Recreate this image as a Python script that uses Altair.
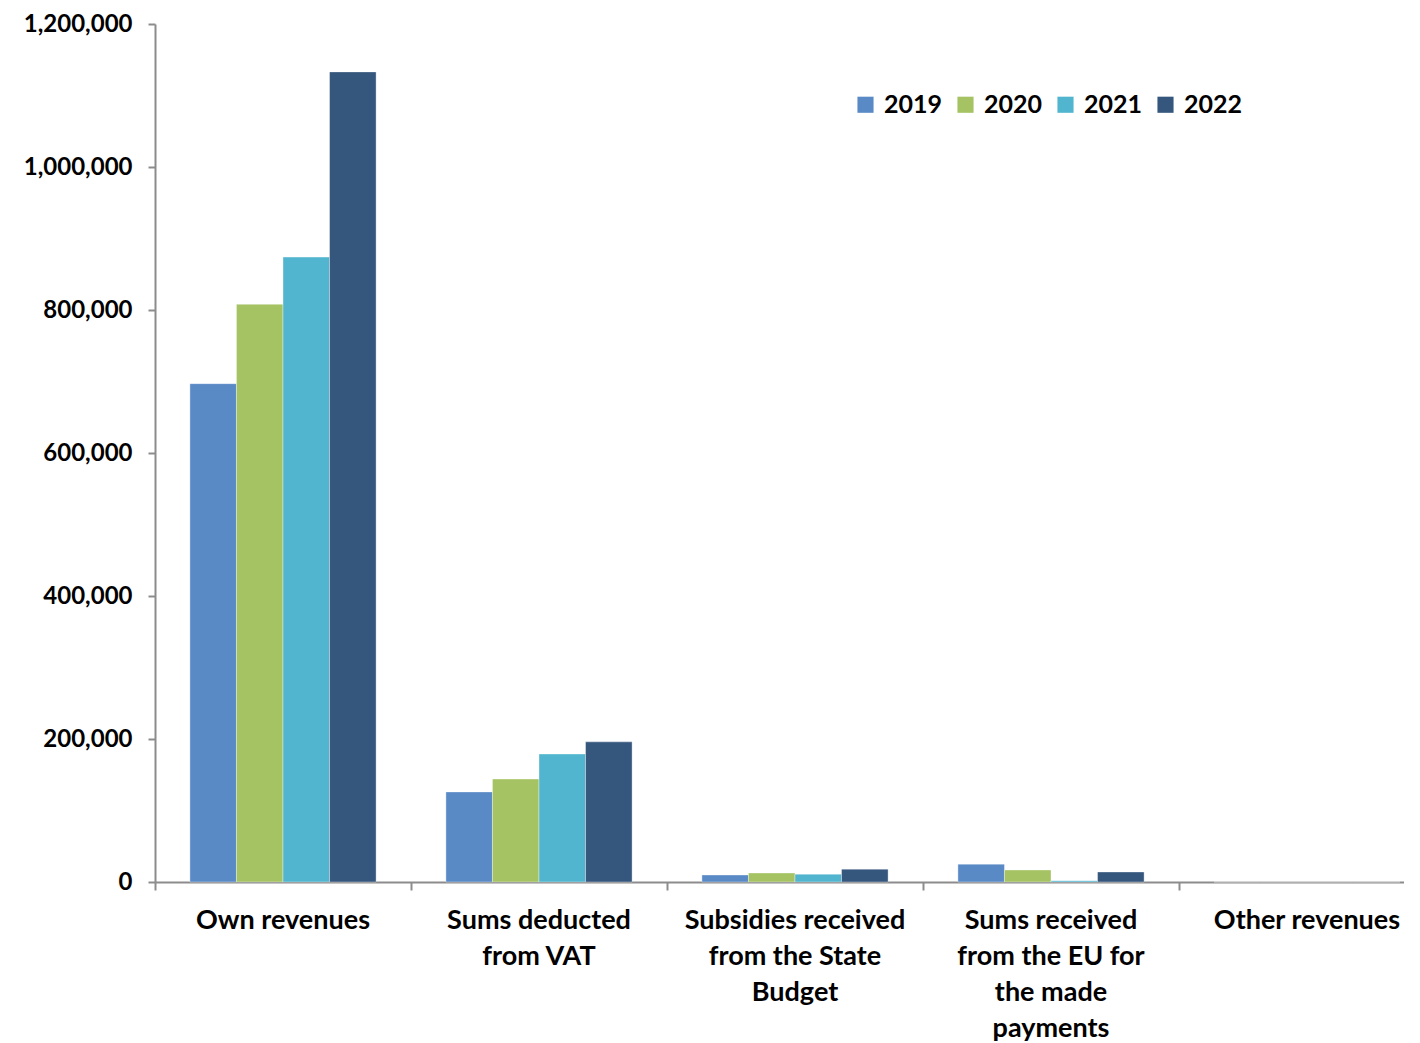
import altair as alt
import pandas as pd

categories = [
    "Own revenues",
    "Sums deducted|from VAT",
    "Subsidies received|from the State|Budget",
    "Sums received|from the EU for|the made|payments",
    "Other revenues",
]
years = ["2019", "2020", "2021", "2022"]
values = {
    "2019": [697000, 126000, 9800, 25000, 0],
    "2020": [808000, 144000, 12600, 16800, 0],
    "2021": [874000, 179000, 11000, 1800, 0],
    "2022": [1133000, 196000, 18000, 14000, 0],
}
colors = ["#5A8AC6", "#A5C363", "#52B5CF", "#35567D"]

rows = []
for y in years:
    for c, v in zip(categories, values[y]):
        rows.append({"category": c, "year": y, "value": v})
df = pd.DataFrame(rows)

FONT = "Lato"

chart = alt.Chart(df).mark_bar(stroke="white", strokeWidth=0.6, strokeOpacity=0.6).encode(
    x=alt.X("category:N", sort=categories, title=None,
            scale=alt.Scale(paddingInner=0.0, paddingOuter=0.0),
            axis=alt.Axis(labelAngle=0, labelExpr="split(datum.label, '|')",
                          bandPosition=0, ticks=True, tickSize=8, tickColor="#8C8C8C",
                          tickWidth=2, domainColor="#8C8C8C", domainWidth=2,
                          labelPadding=17, labelFont=FONT, labelFontSize=27,
                          labelFontWeight="bold", labelColor="black", labelLimit=400,
                          labelLineHeight=36, labelBaseline="top", grid=False)),
    xOffset=alt.XOffset("year:N", sort=years,
                        scale=alt.Scale(paddingInner=0.0, paddingOuter=0.75)),
    y=alt.Y("value:Q", title=None,
            scale=alt.Scale(domain=[0, 1200000], nice=False),
            axis=alt.Axis(values=[0, 200000, 400000, 600000, 800000, 1000000, 1200000],
                          format=",.0f", tickSize=7, tickColor="#8C8C8C", tickWidth=2,
                          domainColor="#8C8C8C", domainWidth=2, labelPadding=16,
                          labelFont=FONT, labelFontSize=24, labelFontWeight="bold",
                          labelColor="black", grid=False)),
    color=alt.Color("year:N", sort=years,
                    scale=alt.Scale(domain=years, range=colors),
                    legend=alt.Legend(title=None, orient="none", direction="horizontal",
                                      legendX=698, legendY=68, symbolType="square",
                                      symbolSize=260, symbolStrokeWidth=0,
                                      labelFont=FONT, labelFontSize=25,
                                      labelFontWeight="bold", labelColor="black",
                                      columnPadding=10, labelOffset=6)),
).properties(
    width=1280, height=858,
    autosize=alt.AutoSizeParams(type="none"),
    padding={"left": 147, "top": 16, "right": -31, "bottom": 161},
).configure_view(stroke=None)

chart.save("out.html", embed_options={"renderer": "svg", "actions": False})
